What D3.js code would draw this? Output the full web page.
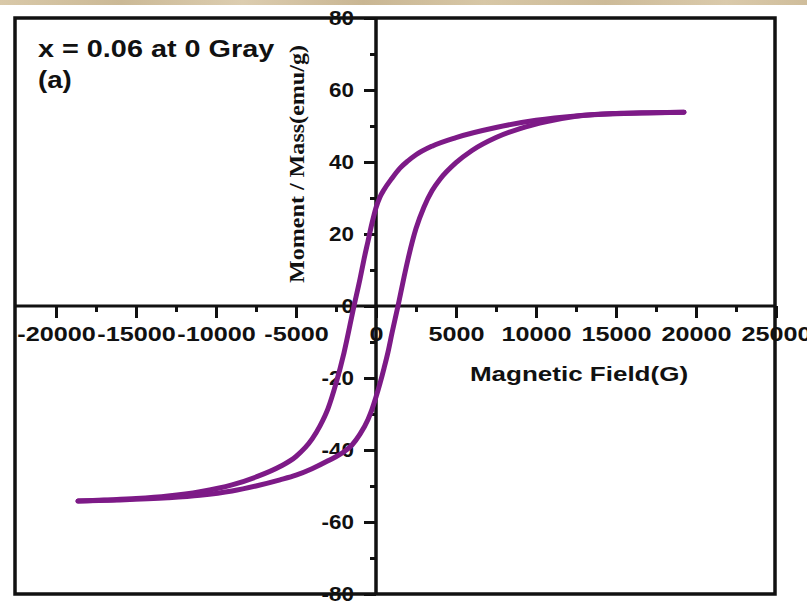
<!DOCTYPE html>
<html>
<head>
<meta charset="utf-8">
<script src="https://cdn.jsdelivr.net/npm/d3@7/dist/d3.min.js"></script>
<style>
  html, body { margin: 0; padding: 0; background: #ffffff; }
  svg { display: block; }
  text { font-family: "Liberation Sans", Arial, sans-serif; font-weight: bold; fill: #111; }
</style>
</head>
<body>
<svg id="chart" width="807" height="602"></svg>
<script>
// Hysteresis loop, x = 0.06 sample at 0 Gray
// Descending-field branch (field in G, moment in emu/g)
const upperField  = [19250, 17500, 15000, 12500, 10000, 7500, 5000, 3500, 2500, 2000, 1500, 1000, 500, 250, 0, -250, -500, -750, -1000, -1375, -2000, -2500, -3000, -3500, -4000, -5000, -6000, -7500, -9000, -11000, -13000, -15000, -17000, -18625];
const upperMoment = [53.8, 53.7, 53.4, 52.8, 51.6, 49.6, 46.8, 44.4, 42.0, 40.3, 38.3, 35.5, 32.3, 30.3, 27.3, 23.0, 18.0, 13.0, 7.5, 0.0, -13.0, -21.5, -28.5, -33.3, -37.0, -41.8, -44.6, -47.5, -49.7, -51.6, -52.8, -53.5, -53.9, -54.2];
// Ascending-field branch
const lowerField  = [-18625, -16000, -13000, -11000, -9000, -7500, -6000, -5000, -4000, -3000, -2000, -1500, -1000, -500, -250, 0, 250, 500, 750, 1000, 1375, 1750, 2000, 2500, 3000, 3500, 4000, 5000, 6000, 7500, 9000, 10750, 12500, 15000, 17000, 19250];
const lowerMoment = [-54.2, -53.9, -53.3, -52.6, -51.4, -50.0, -48.3, -47.0, -45.2, -43.0, -40.5, -38.6, -35.6, -31.5, -28.7, -25.3, -21.5, -17.3, -12.8, -7.5, 0.0, 8.0, 13.0, 21.5, 27.5, 32.0, 35.2, 39.8, 43.2, 46.8, 49.3, 51.3, 52.7, 53.5, 53.7, 53.8];

const xMajorTicks = [-20000, -15000, -10000, -5000, 0, 5000, 10000, 15000, 20000, 25000];
const xMinorTicks = [-17500, -12500, -7500, -2500, 2500, 7500, 12500, 17500, 22500];
const yMajorTicks = [-80, -60, -40, -20, 0, 20, 40, 60, 80];
const yMinorTicks = [-70, -50, -30, -10, 10, 30, 50, 70];

const titleText = "x = 0.06 at 0 Gray";
const panelText = "(a)";
const xTitle = "Magnetic Field(G)";
const yTitle = "Moment / Mass(emu/g)";

const svg = d3.select("#chart");
const W = 807, H = 602;
const frame = { left: 15, top: 18, right: 775, bottom: 594 };

const x = d3.scaleLinear().domain([-22500, 25000]).range([16, 776]);
const y = d3.scaleLinear().domain([-80, 80]).range([frame.bottom, frame.top]);

// widen text horizontally by a factor, keeping its anchor
function widen(sel, k) {
  sel.each(function () {
    const len = this.getComputedTextLength();
    d3.select(this).attr("textLength", len * k).attr("lengthAdjust", "spacingAndGlyphs");
  });
}

// textured strip along the top edge
const grad = svg.append("defs").append("linearGradient").attr("id", "paper")
  .attr("x1", "0%").attr("x2", "100%");
[["0%", "#d9c9a9"], ["15%", "#cbb996"], ["30%", "#dccdb0"], ["45%", "#c9b693"],
 ["60%", "#d7c7a6"], ["75%", "#cdbb99"], ["90%", "#dacaab"], ["100%", "#cfbd9b"]]
  .forEach(([o, c]) => grad.append("stop").attr("offset", o).attr("stop-color", c));
svg.append("rect").attr("x", 0).attr("y", 0).attr("width", W).attr("height", 5).attr("fill", "url(#paper)");

const x0 = x(0), y0 = y(0);

// tick marks and labels
const gx = svg.append("g").attr("transform", `translate(0,${y0})`);
gx.call(d3.axisBottom(x).tickValues(xMajorTicks).tickSize(12).tickPadding(8).tickFormat(d => String(d)));
gx.append("g").call(d3.axisBottom(x).tickValues(xMinorTicks).tickSize(6).tickFormat(""));
gx.selectAll(".domain").remove();
gx.selectAll("line").attr("stroke", "#111").attr("stroke-width", 3);
gx.selectAll("text").attr("font-size", 21).attr("fill", "#111")
  .style("font-family", "'Liberation Sans', Arial, sans-serif").style("font-weight", "bold");
widen(gx.selectAll("text"), 1.2);

const gy = svg.append("g").attr("transform", `translate(${x0},0)`);
gy.call(d3.axisLeft(y).tickValues(yMajorTicks).tickSize(12).tickPadding(10).tickFormat(d => String(d)));
gy.append("g").call(d3.axisLeft(y).tickValues(yMinorTicks).tickSize(6).tickFormat(""));
gy.selectAll(".domain").remove();
gy.selectAll("line").attr("stroke", "#111").attr("stroke-width", 3);
gy.selectAll("text").attr("font-size", 20).attr("fill", "#111")
  .style("font-family", "'Liberation Sans', Arial, sans-serif").style("font-weight", "bold");
widen(gy.selectAll("text"), 1.12);

// plot frame and zero axes
svg.append("rect")
  .attr("x", frame.left).attr("y", frame.top)
  .attr("width", frame.right - frame.left).attr("height", frame.bottom - frame.top)
  .attr("fill", "none").attr("stroke", "#111").attr("stroke-width", 3.5);
svg.append("line").attr("x1", frame.left).attr("x2", frame.right).attr("y1", y0).attr("y2", y0)
  .attr("stroke", "#111").attr("stroke-width", 3);
svg.append("line").attr("x1", x0).attr("x2", x0).attr("y1", frame.top).attr("y2", frame.bottom)
  .attr("stroke", "#111").attr("stroke-width", 3.5);

// axis titles
const xt = svg.append("text").attr("x", 579).attr("y", 381).attr("text-anchor", "middle")
  .attr("font-size", 20).text(xTitle);
widen(xt, 1.3);

const yt = svg.append("text")
  .attr("transform", `translate(304,164) rotate(-90)`)
  .attr("text-anchor", "middle")
  .style("font-family", "'Liberation Serif', 'Times New Roman', serif")
  .attr("font-size", 22).text(yTitle);
yt.attr("textLength", 238).attr("lengthAdjust", "spacingAndGlyphs");

// annotation
const t1 = svg.append("text").attr("x", 38).attr("y", 57).attr("font-size", 24).text(titleText);
widen(t1, 1.2);
const t2 = svg.append("text").attr("x", 38).attr("y", 88).attr("font-size", 24).text(panelText);
widen(t2, 1.15);

// hysteresis branches
const line = d3.line().x(d => x(d[0])).y(d => y(d[1])).curve(d3.curveMonotoneX);
const upper = d3.zip(upperField, upperMoment).sort((a, b) => a[0] - b[0]);
const lower = d3.zip(lowerField, lowerMoment).sort((a, b) => a[0] - b[0]);
[upper, lower].forEach(data => {
  svg.append("path").datum(data).attr("d", line)
    .attr("fill", "none").attr("stroke", "#7d1a87").attr("stroke-width", 5)
    .attr("stroke-linecap", "round").attr("stroke-linejoin", "round");
});
</script>
</body>
</html>
